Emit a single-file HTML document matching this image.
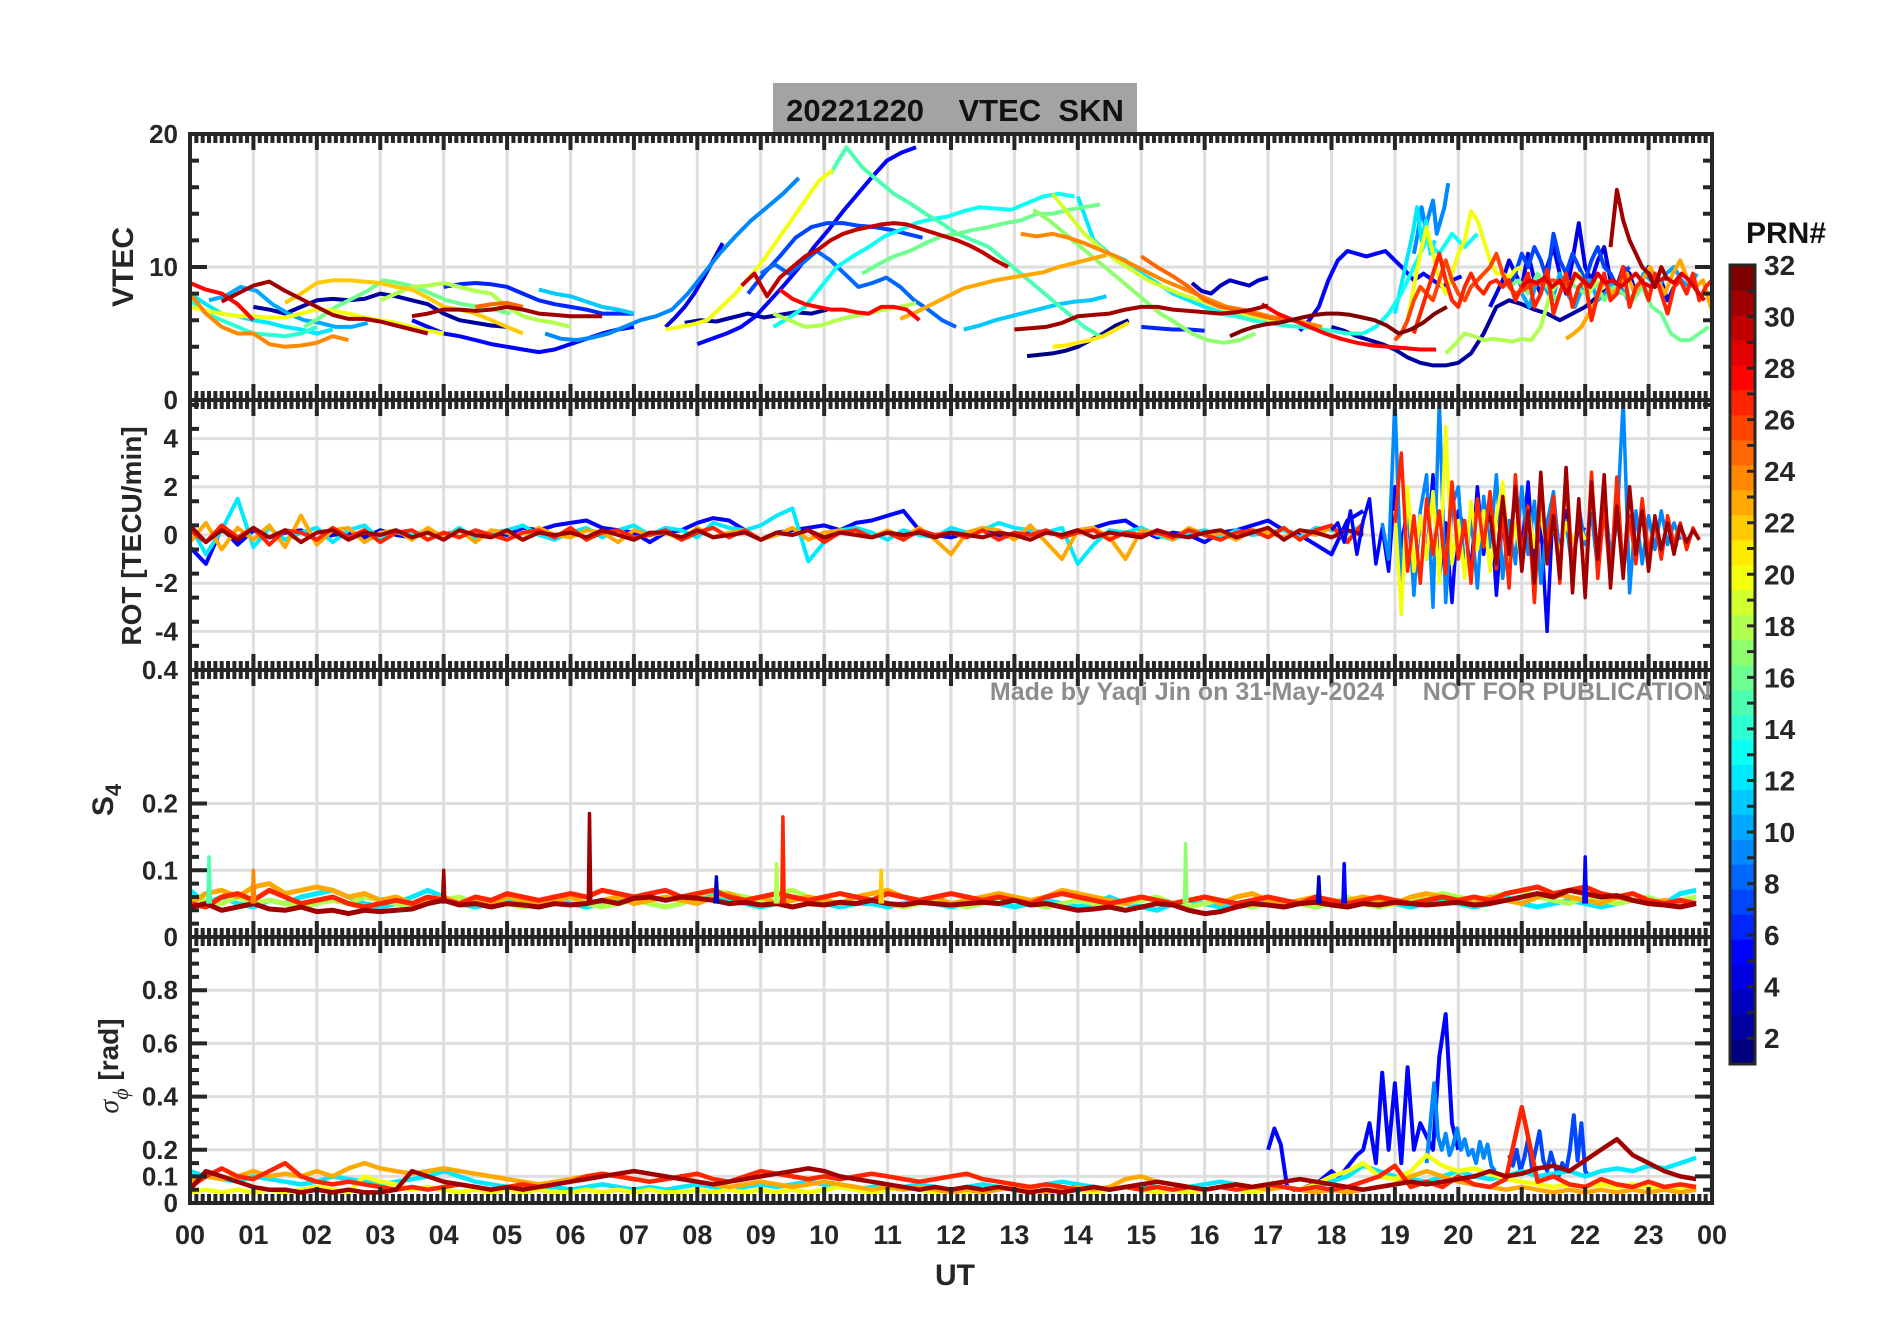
<!DOCTYPE html>
<html><head><meta charset="utf-8"><title>20221220 VTEC SKN</title>
<style>
html,body{margin:0;padding:0;background:#fff;}
body{width:1902px;height:1330px;overflow:hidden;}
svg text{font-family:"Liberation Sans",Arial,sans-serif;font-weight:bold;fill:#262626;}
</style></head>
<body>
<svg id="chart" width="1902" height="1330" viewBox="0 0 1902 1330" xmlns="http://www.w3.org/2000/svg">
<defs>
<clipPath id="c1"><rect x="190" y="134" width="1522" height="266"/></clipPath>
<clipPath id="c2"><rect x="190" y="400" width="1522" height="270"/></clipPath>
<clipPath id="c3"><rect x="190" y="670" width="1522" height="267"/></clipPath>
<clipPath id="c4"><rect x="190" y="937" width="1522" height="266"/></clipPath>
</defs>
<rect x="773" y="83" width="364" height="51" fill="#a3a3a3"/>
<text x="955" y="121" text-anchor="middle" font-size="31" style="white-space:pre;fill:#111" xml:space="preserve">20221220    VTEC  SKN</text>
<g id="grids"></g>
<g id="series"></g>
<g id="axes"></g>
<text x="1187" y="700" font-size="25" text-anchor="middle" style="fill:#8c8c8c;font-family:'Liberation Sans Narrow','Liberation Sans',sans-serif">Made by Yaqi Jin on 31-May-2024</text>
<text x="1567" y="700" font-size="25" text-anchor="middle" style="fill:#8c8c8c;font-family:'Liberation Sans Narrow','Liberation Sans',sans-serif">NOT FOR PUBLICATION</text>
<text transform="translate(133,267) rotate(-90)" text-anchor="middle" font-size="30">VTEC</text>
<text transform="translate(141,536) rotate(-90)" text-anchor="middle" font-size="28">ROT [TECU/min]</text>
<text transform="translate(113,800) rotate(-90)" text-anchor="middle" font-size="30">S<tspan font-size="22" dy="8">4</tspan></text>
<text transform="translate(118,1066) rotate(-90)" text-anchor="middle" font-size="28"><tspan style="font-family:'Liberation Serif',serif;font-style:italic;font-weight:normal">σ</tspan><tspan dy="10" font-size="22" style="font-family:'Liberation Serif',serif;font-style:italic;font-weight:normal">ϕ</tspan><tspan dy="-10"> [rad]</tspan></text>
<text x="955" y="1285" text-anchor="middle" font-size="30">UT</text>
<text x="1786" y="243" text-anchor="middle" font-size="30" style="fill:#111">PRN#</text>
<g id="colorbar"></g>
</svg>
<script>
// ---------- data ----------
const hourLabels = ["00","01","02","03","04","05","06","07","08","09","10","11","12","13","14","15","16","17","18","19","20","21","22","23","00"];
const vtecTicks = [0,10,20];
const rotTicks = [-4,-2,0,2,4];
const s4Ticks = [0,0.1,0.2,0.4];
const sigTicks = [0,0.1,0.2,0.4,0.6,0.8];
const prnTicks = [2,4,6,8,10,12,14,16,18,20,22,24,26,28,30,32];

// VTEC tracks: prn, start hour, step (h), values
const vtecPrn   = [28,31,24,22,20,16,18,14,12,10,2,5,6,11,9,25,31,4,20,5,7,15,8,13,16,30,28,18,2,23,24,11,21,1,19,17,12,25,31,6,3,32,28,5,2,14,26,20,9,12,27,4,7,31,16,18,23,10,29,13];
const vtecStart = [0,0.5,0,1.5,0,1.8,3,0,0,0.3,1,3.5,4,5.5,5.6,4.5,3.5,7.5,7.5,8,8.8,10.1,9,9.2,10.6,8.7,9.3,9.2,7.8,11.2,13.1,12.2,13.6,13.2,13.6,13.3,14,15,13,15,15.8,16.4,16.9,17.5,18,16,19,19.2,19.3,19,19.3,20.5,20.8,22.4,20.8,19.8,21.7,21,21,18.5];
const vtecStep  = [0.25,0.25,0.25,0.25,0.25,0.25,0.25,0.25,0.25,0.25,0.25,0.25,0.25,0.25,0.25,0.25,0.25,0.15,0.22,0.23,0.25,0.25,0.22,0.25,0.25,0.2,0.2,0.25,0.25,0.25,0.25,0.25,0.2,0.2,0.25,0.25,0.25,0.25,0.25,0.25,0.15,0.19,0.25,0.15,0.2,0.25,0.1,0.1,0.06,0.07,0.1,0.1,0.1,0.1,0.15,0.15,0.12,0.12,0.12,0.2];
const vtecValues = [
[8.8,8.3,8.0,7.2,6.0],
[7.4,8.0,8.6,8.9,8.2,7.6,7.0,6.4,6.1,6.1,5.9,5.6,5.3,5.0],
[8.0,6.5,5.5,5.0,5.0,4.2,4.0,4.1,4.3,4.8,4.5],
[7.3,8.0,8.8,9.0,9.0,8.9,8.8,8.5,8.3,7.7,7.0,6.8,6.5,6.0,5.5,5.0],
[7.0,6.7,6.5,6.3,6.3,6.2,6.2,6.5,6.8,6.7,6.5,6.2,6.0,5.8,5.5,5.2,5.0],
[5.5,6.2,7.0,7.6,8.2,9.0,8.8,8.5,8.0,7.5,7.2,7.0,6.8,6.5],
[7.5,8.0,8.5,8.6,8.8,8.5,8.2,8.0,7.0,6.3,6.0,5.8,5.5],
[7.5,6.5,6.0,5.5,5.0,4.9,4.8,5.0,5.5],
[8.0,7.2,6.5,6.3,6.0,5.8,5.5,5.3,5.0,5.3],
[7.5,7.8,8.5,8.2,7.2,6.5,6.0,5.8,5.5,5.5,5.8],
[7.0,6.8,6.5,7.0,7.5,7.6,7.5,7.6,8.0,7.8,7.5,7.2,6.5,6.0,5.8,5.6,5.5],
[6.0,5.5,5.0,4.8,4.5,4.2,4.0,3.8,3.6,3.8,4.2,4.6,5.0,5.3,5.5],
[8.5,8.7,8.8,8.7,8.5,8.0,7.5,7.2,7.0,6.8,6.5,6.5,6.5],
[8.3,8.0,7.8,7.4,7.0,6.8,6.5],
[5.0,4.6,4.5,4.7,5.0,5.5,6.0,6.3,6.8,8.0,9.5,11.0,12.3,13.5,14.5,15.5,16.7],
[7.0,7.2,7.3,7.0],
[6.3,6.5,6.8,6.8,6.7,6.8,7.0,6.8,6.5,6.4,6.3,6.3,6.3],
[5.5,6.2,7.0,8.0,9.2,10.5,11.8],
[5.3,5.5,5.7,6.0,7.0,8.0,9.2,10.5,12.0,13.5,15.0,16.5,17.3],
[4.2,4.6,5.0,5.5,6.3,7.5,8.7,10.0,11.5,12.8,14.2,15.5,16.8,18.0,18.6,19.0],
[8.0,9.5,10.8,12.2,13.0,13.3,13.3,13.1,13.0,12.8,12.5,12.2],
[17.0,19.0,17.5,16.5,15.5,14.8,14.0,13.3,12.5,12.0,11.5,10.5,9.5,8.5,7.5,6.5,5.5,4.8],
[9.5,10.2,9.5,10.3,11.2,10.5,9.5,8.5,8.8,9.2,8.5,7.5,6.8,6.0,5.5],
[5.5,6.2,7.0,8.5,10.0,10.8,11.5,12.3,12.8,13.3,13.6,13.8,14.2,14.5,14.4,14.3,14.8,15.3,15.5,15.3],
[9.5,10.2,10.8,11.2,11.8,12.3,12.5,12.8,13.0,13.3,13.5,14.0,14.0,14.3,14.5,14.7],
[8.6,9.5,7.8,9.2,10.0,10.8,11.3,12.0,12.5,12.8,13.0,13.2,13.3,13.2,12.9,12.6,12.3,12.0,11.6,11.1,10.5,10.0],
[8.3,7.6,7.2,7.0,6.8,6.8,6.6,6.5,7.0,7.0,6.8,6.0],
[6.5,6.0,5.5,5.6,6.0,6.3,6.5,6.8,7.0,7.3],
[5.8,6.0,5.9,6.2,6.5,6.2,6.4,6.6,6.5,6.8],
[6.1,6.6,7.2,7.8,8.4,8.7,9.0,9.2,9.4,9.6,10.0,10.3,10.6,10.9],
[12.5,12.3,12.5,12.2,11.8,11.3,10.8,10.2,9.6,9.0,8.5,8.0,7.5,7.0,6.8,6.5,6.2,6.0,5.8,5.5],
[5.3,5.6,6.0,6.3,6.6,6.9,7.2,7.4,7.5,7.8],
[4.0,4.1,4.3,4.5,4.8,5.3,5.8],
[3.3,3.4,3.5,3.7,4.0,4.5,5.0,5.6,6.0],
[15.5,14.0,12.5,11.5,10.5,9.8,9.0,8.5,8.0,7.6,7.2,6.8,6.5,6.2,6.0],
[14.3,13.5,12.5,11.5,10.5,9.5,8.5,7.5,6.5,5.8,5.0,4.5,4.3,4.5,5.0],
[15.3,12.0,11.0,10.5,9.5,8.8,8.0,7.5,7.0,6.6,6.3,6.0,5.8],
[10.8,10.0,9.3,8.5,7.5,7.0,6.8,6.5,6.2,6.0],
[5.3,5.4,5.5,5.8,6.3,6.4,6.5,6.8,7.0,7.0,6.8,6.7,6.6,6.5,6.6,6.8,7.1],
[5.5,5.4,5.3,5.3,5.2],
[8.8,8.2,8.0,8.6,9.0,8.8,8.6,9.0,9.2],
[4.8,5.2,5.5,5.7,5.8,6.0,6.2,6.4,6.5,6.5,6.4,6.2,6.0,5.6,5.0,5.3,5.8,6.5,7.0],
[7.2,6.5,6.0,5.5,5.0,4.6,4.3,4.1,4.0,3.9,3.8,3.8],
[5.2,6.0,7.0,9.0,10.5,11.2,11.0,10.8,11.0,11.2,10.5,9.8,9.0,9.5,9.0,8.5,9.0,9.3],
[5.5,5.2,4.8,4.5,4.2,3.8,3.2,2.8,2.6,2.6,2.8,3.5,5.0,7.0,7.5,7.2,6.8,6.5,6.0,6.5,7.0,7.8,8.5,8.0],
[6.8,6.5,6.3,6.0,5.8,5.6,5.5,5.4,5.2,5.0,5.0],
[4.5,5.0,6.0,7.5,8.5,8.0,7.5,9.0,10.5,9.0,8.0,7.5,8.5,9.0,9.5,10.0,11.0,9.5,8.5,8.0,8.2,8.5,8.7,8.8,8.9,9.0,8.8,8.6],
[6.0,8.5,11.0,13.0,11.0,9.0,8.0,9.5,11.0,12.0,14.2,13.5,12.0,10.5,9.5,9.5,9.2,9.8,10.0],
[11.0,12.5,14.5,13.0,14.0,15.0,12.5,13.5,14.5,16.3],
[6.5,8.0,9.5,11.0,12.5,14.5,12.0,13.5,11.0,12.0],
[5.0,6.5,8.0,9.5,11.0,9.0,7.5,7.0,8.5,9.5,8.5,8.0,8.8,9.0,8.5,9.0,7.5,8.5,9.5,7.0,8.0,9.8,6.5,8.0,9.5,7.0,8.5,9.0,6.0,8.0,9.5,7.5,8.0,10.0,7.0,8.5,9.0,7.5,9.5,8.0,6.5,8.5,9.0,8.0,9.5,7.5,8.5,9.0,8.0],
[7.0,8.0,9.0,10.5,9.5,8.5,11.0,9.0,8.0,10.0,11.5,9.5,8.0,10.5,13.3,10.0,9.0,10.5,11.5,9.0,8.5,10.0,9.5,8.0,9.0,10.0,8.5,9.0,7.5,8.5],
[8.5,9.5,11.0,10.0,11.5,10.5,9.0,12.5,10.5,9.5,11.0,10.0,9.0,10.5,11.5,10.0,9.5,8.5,9.5,10.0],
[11.5,15.8,13.5,12.0,11.0,10.0,9.5,8.5,10.0,9.0],
[8.5,9.0,8.0,9.5,8.5,7.5,9.0,8.5,8.0,9.0,7.5,8.5,8.0,7.5,8.5,7.0,6.5,5.0,4.5,4.5,5.0,5.5],
[3.5,4.2,5.0,4.8,4.5,4.6,4.5,4.4,4.6,4.5,5.5,8.0,9.0,8.5,9.5,8.0,9.0],
[4.6,5.0,5.5,6.5,7.5,9.0,8.0,8.5,9.5,8.0,9.0,10.0,9.0,8.0,9.5,10.5,9.0,8.5,9.0,7.0,6.0,5.2],
[8.0,7.0,9.0,8.5,7.5,9.5,8.0,7.0,8.5,9.0,7.5,8.0,9.0,8.5,7.5,8.0,9.5,9.0,8.5,9.5,10.0,9.0,8.5,9.5],
[8.5,9.0,8.8,9.2,8.5,9.0,8.0,9.5,9.0,8.5,9.5,8.8,9.0,8.5,9.0,9.5,8.8,8.5,9.0,9.2,8.8,9.5,9.0,8.2,7.5],
[5.0,5.5,6.5,8.0,10.0,12.0,11.0,12.5,11.5,12.5]
];

// ROT quiet-band series (0 - 18.5 h, 0.25 h step)
const rotQuietPrn = [5,12,23,27,31];
const rotQuietValues = [
[-0.5,-1.2,0.3,-0.4,0.2,-0.1,0.1,0.2,-0.2,0.0,0.1,-0.1,0.2,0.0,-0.1,0.1,0.0,0.2,-0.1,0.1,0.0,0.3,0.2,0.4,0.5,0.6,0.3,0.2,0.1,-0.3,0.1,0.2,0.5,0.7,0.6,0.2,-0.2,0.1,0.2,0.3,0.4,0.2,0.5,0.6,0.8,1.0,0.2,0.0,-0.1,0.1,0.2,0.0,-0.1,0.2,0.1,0.0,0.2,0.3,0.5,0.6,0.2,-0.1,0.1,0.0,-0.3,0.1,0.2,0.4,0.6,0.2,0.0,-0.4,-0.8,0.6,1.0],
[0.4,-0.8,0.2,1.5,-0.5,0.3,-0.2,0.1,0.3,-0.3,0.2,0.4,-0.2,0.1,0.0,0.2,-0.1,0.3,-0.2,0.1,0.2,0.4,0.0,-0.2,0.1,0.3,-0.1,0.2,0.4,0.0,0.3,0.2,-0.1,0.5,0.3,0.2,0.4,0.8,1.1,-1.1,-0.3,0.2,0.3,0.1,-0.2,0.2,0.0,-0.1,0.3,0.1,0.2,0.5,0.3,0.2,0.1,0.3,-1.2,-0.4,0.2,0.1,0.3,0.0,-0.2,0.1,0.2,-0.1,0.2,0.0,0.1,0.2,-0.1,0.3,0.2,0.1,0.4],
[-0.3,0.5,-0.6,0.3,-0.2,0.4,-0.5,0.8,-0.4,0.2,0.3,-0.3,0.1,0.2,-0.2,0.3,-0.1,0.2,-0.3,0.2,0.1,-0.2,0.3,0.0,-0.1,0.2,0.1,-0.3,0.2,0.0,0.1,-0.2,0.3,-0.1,0.1,0.2,-0.2,0.0,0.3,-0.2,0.1,0.2,0.0,-0.1,0.2,-0.1,0.3,-0.2,-0.8,0.1,0.3,0.2,-0.2,0.4,-0.3,-1.0,0.2,0.3,-0.1,-1.0,0.2,0.1,-0.2,0.3,0.0,0.1,-0.2,0.2,0.1,-0.1,0.2,0.0,0.3,-0.2,0.2],
[0.2,-0.3,0.4,-0.1,0.3,-0.4,0.2,0.1,-0.2,0.3,-0.1,0.2,-0.3,0.1,0.2,-0.2,0.1,-0.1,0.2,0.0,-0.2,0.1,0.2,-0.1,0.3,-0.2,0.1,0.2,-0.1,0.0,0.2,-0.2,0.1,0.3,-0.1,0.2,-0.2,0.1,0.0,0.2,-0.3,0.1,0.2,-0.1,0.1,-0.2,0.2,0.0,0.1,-0.1,0.2,-0.2,0.1,0.0,0.2,-0.1,0.1,0.2,-0.2,0.1,0.0,0.1,-0.1,0.2,0.0,-0.2,0.1,0.2,-0.1,0.3,-0.2,0.2,0.4,-0.3,0.5],
[0.4,-0.3,0.2,-0.2,0.3,-0.1,0.2,-0.3,0.1,0.2,-0.2,0.1,0.0,0.2,-0.1,0.1,-0.2,0.2,0.0,-0.1,0.2,-0.2,0.1,0.0,0.1,-0.1,0.2,0.0,-0.2,0.1,0.1,-0.1,0.2,-0.1,0.0,0.1,-0.2,0.1,0.0,0.2,-0.1,0.1,0.0,-0.1,0.1,0.0,0.1,-0.1,0.1,0.0,-0.1,0.1,0.0,-0.2,0.1,0.0,0.2,-0.1,0.1,0.0,-0.1,0.2,0.0,-0.1,0.1,0.2,-0.1,0.1,0.3,-0.2,0.2,0.1,-0.1,0.2,0.0]
];
// ROT bursts (evening)
const rotBurstPrn = [5,9,20,27,31];
const rotBurstStart = [18.0,18.8,19.0,19.0,20.5];
const rotBurstValues = [
[0.2,0.5,-0.3,1.0,-0.8,0.6,1.5,-1.2,0.3,-1.5,2.0,-0.5,1.2,-2.2,0.8,-1.0,2.5,-1.8,0.5,-2.8,1.0,0.3,-1.5,2.0,-0.8,1.6,-2.5,0.8,-1.0,1.8,-0.6,2.2,-1.4,0.5,-4.0,1.5,-0.8,1.0,-1.2,0.4,0.2],
[0.5,-1.0,5.6,-2.0,1.5,-2.5,1.0,2.5,-3.0,5.6,-2.8,1.2,2.0,-1.5,0.8,-2.2,1.6,-0.5,2.5,-1.8,0.6,-1.2,2.0,-0.8,1.4,-2.0,0.5,1.8,-1.0,0.6,-1.6,1.2,-0.4,0.9,-1.5,1.6,-0.8,0.4,5.6,-2.4,1.0,-1.2,0.8,-0.6,1.0,-0.4,0.5,-0.2],
[1.0,-3.3,2.0,-1.5,0.8,-1.0,1.8,-2.0,4.5,-1.2,0.6,-1.8,1.4,-0.6,1.0,-1.5,0.8,2.2,-1.0,0.5,-1.2,1.0,-0.5,0.8,-0.6,0.4,-0.8,0.5,-0.3,0.4,-0.2],
[0.5,3.4,-1.5,0.8,-2.0,1.5,-0.8,1.0,-1.6,2.2,-1.0,0.6,-2.0,1.5,-0.5,1.8,-1.4,0.8,-2.2,2.5,-1.0,1.2,-2.8,2.0,-0.6,1.6,-2.0,2.8,-1.5,1.0,-2.2,2.6,-1.8,1.2,-2.0,2.4,-1.6,0.8,-1.2,1.5,-0.8,0.6,-1.0,0.8,-0.4,0.5,-0.6,0.3,-0.2],
[0.8,-1.2,1.6,-0.8,2.0,-1.5,1.0,-2.0,2.6,-1.2,0.8,-1.8,2.8,-2.4,1.5,-2.6,2.2,-1.0,2.5,-2.2,1.2,-1.8,2.0,-0.8,1.0,-1.5,0.8,-0.6,0.5,-0.8,0.4,-0.3,0.2,-0.2]
];

// S4 series (0 - 24 h, 0.25 h step)
const s4Prn = [12,18,23,27,31];
const s4Values = [
[0.07,0.05,0.06,0.05,0.045,0.055,0.05,0.06,0.065,0.07,0.06,0.05,0.045,0.05,0.06,0.07,0.06,0.05,0.045,0.05,0.055,0.05,0.045,0.06,0.05,0.045,0.05,0.055,0.06,0.05,0.045,0.05,0.06,0.065,0.055,0.05,0.045,0.05,0.06,0.055,0.05,0.045,0.05,0.05,0.045,0.05,0.055,0.05,0.045,0.05,0.06,0.05,0.045,0.05,0.055,0.05,0.045,0.05,0.06,0.05,0.045,0.04,0.05,0.055,0.05,0.045,0.05,0.055,0.05,0.045,0.05,0.055,0.05,0.045,0.05,0.06,0.05,0.045,0.05,0.055,0.05,0.045,0.05,0.06,0.05,0.045,0.05,0.055,0.05,0.045,0.05,0.055,0.06,0.05,0.065,0.07],
[0.06,0.055,0.05,0.06,0.05,0.055,0.05,0.045,0.05,0.055,0.05,0.06,0.055,0.05,0.045,0.05,0.055,0.06,0.05,0.055,0.05,0.045,0.05,0.055,0.06,0.05,0.045,0.05,0.055,0.05,0.045,0.05,0.06,0.07,0.065,0.06,0.055,0.065,0.07,0.06,0.055,0.05,0.06,0.055,0.05,0.045,0.05,0.055,0.05,0.045,0.05,0.06,0.055,0.05,0.045,0.05,0.055,0.05,0.045,0.05,0.055,0.06,0.05,0.045,0.05,0.055,0.05,0.045,0.05,0.055,0.05,0.045,0.05,0.06,0.05,0.045,0.05,0.055,0.06,0.065,0.06,0.055,0.06,0.065,0.07,0.06,0.055,0.05,0.06,0.055,0.05,0.055,0.06,0.05,0.055,0.06],
[0.05,0.065,0.07,0.06,0.075,0.08,0.065,0.07,0.075,0.07,0.06,0.065,0.055,0.06,0.05,0.055,0.06,0.05,0.055,0.05,0.06,0.055,0.05,0.055,0.06,0.05,0.055,0.06,0.05,0.055,0.06,0.055,0.05,0.06,0.065,0.055,0.06,0.05,0.055,0.06,0.055,0.05,0.06,0.065,0.07,0.06,0.055,0.06,0.05,0.055,0.06,0.065,0.06,0.055,0.06,0.07,0.065,0.06,0.055,0.05,0.06,0.055,0.05,0.055,0.06,0.05,0.06,0.065,0.055,0.05,0.055,0.06,0.05,0.055,0.06,0.055,0.05,0.06,0.065,0.06,0.055,0.05,0.06,0.055,0.05,0.06,0.065,0.06,0.055,0.05,0.06,0.055,0.05,0.055,0.05,0.05],
[0.05,0.045,0.06,0.065,0.055,0.07,0.06,0.05,0.055,0.06,0.05,0.045,0.05,0.055,0.05,0.06,0.055,0.05,0.06,0.055,0.065,0.06,0.055,0.06,0.065,0.06,0.07,0.065,0.06,0.065,0.07,0.06,0.065,0.07,0.06,0.055,0.06,0.065,0.06,0.055,0.06,0.065,0.06,0.055,0.065,0.06,0.055,0.06,0.065,0.06,0.055,0.06,0.055,0.05,0.06,0.065,0.06,0.055,0.05,0.055,0.06,0.055,0.05,0.055,0.06,0.055,0.05,0.055,0.06,0.055,0.05,0.06,0.055,0.05,0.055,0.06,0.055,0.05,0.055,0.06,0.055,0.06,0.055,0.065,0.07,0.075,0.065,0.07,0.075,0.065,0.06,0.065,0.055,0.05,0.055,0.05],
[0.045,0.05,0.04,0.045,0.05,0.042,0.04,0.045,0.038,0.04,0.035,0.04,0.038,0.04,0.042,0.05,0.055,0.048,0.05,0.045,0.05,0.048,0.045,0.05,0.048,0.05,0.055,0.05,0.058,0.06,0.055,0.06,0.058,0.055,0.05,0.052,0.048,0.05,0.045,0.05,0.048,0.052,0.05,0.055,0.05,0.048,0.052,0.05,0.048,0.05,0.052,0.05,0.055,0.048,0.05,0.045,0.04,0.042,0.045,0.04,0.045,0.05,0.048,0.04,0.035,0.038,0.045,0.05,0.048,0.045,0.05,0.052,0.048,0.045,0.05,0.048,0.052,0.05,0.048,0.05,0.052,0.048,0.05,0.055,0.06,0.065,0.06,0.07,0.065,0.06,0.062,0.055,0.05,0.048,0.045,0.05]
];
const s4SpikeHour = [0.3,6.3,9.35,9.25,4.0,15.7,18.2,22.0,1.0,10.9,8.3,17.8];
const s4SpikeValue = [0.12,0.185,0.18,0.11,0.10,0.14,0.11,0.12,0.10,0.10,0.09,0.09];
const s4SpikePrn = [15,31,27,18,31,17,5,5,24,22,3,3];

// sigma-phi series (0 - 24 h, 0.25 h step)
const sigPrn = [12,20,23,27,31];
const sigValues = [
[0.12,0.1,0.09,0.08,0.1,0.09,0.08,0.07,0.08,0.1,0.09,0.08,0.07,0.08,0.09,0.1,0.12,0.1,0.08,0.07,0.06,0.06,0.05,0.06,0.05,0.06,0.07,0.06,0.05,0.06,0.05,0.06,0.07,0.06,0.05,0.06,0.07,0.06,0.07,0.08,0.07,0.06,0.05,0.06,0.07,0.06,0.07,0.06,0.05,0.06,0.07,0.06,0.05,0.06,0.07,0.08,0.07,0.06,0.05,0.06,0.07,0.06,0.05,0.06,0.07,0.08,0.07,0.06,0.07,0.06,0.05,0.06,0.08,0.1,0.14,0.12,0.1,0.09,0.08,0.1,0.12,0.1,0.09,0.1,0.12,0.1,0.11,0.12,0.1,0.12,0.13,0.12,0.14,0.13,0.15,0.17],
[0.04,0.05,0.04,0.05,0.04,0.05,0.04,0.05,0.06,0.05,0.04,0.1,0.08,0.07,0.05,0.06,0.05,0.04,0.05,0.04,0.05,0.04,0.05,0.04,0.04,0.05,0.04,0.05,0.04,0.05,0.04,0.04,0.05,0.04,0.05,0.04,0.05,0.04,0.05,0.04,0.05,0.06,0.05,0.04,0.05,0.06,0.05,0.04,0.05,0.04,0.05,0.06,0.05,0.04,0.05,0.04,0.05,0.04,0.05,0.06,0.05,0.04,0.05,0.04,0.05,0.06,0.05,0.04,0.05,0.06,0.05,0.07,0.1,0.12,0.15,0.1,0.09,0.12,0.18,0.14,0.12,0.13,0.11,0.09,0.08,0.07,0.06,0.07,0.06,0.07,0.06,0.07,0.06,0.05,0.06,0.05],
[0.08,0.1,0.09,0.1,0.12,0.1,0.11,0.1,0.12,0.1,0.13,0.15,0.13,0.12,0.11,0.12,0.13,0.12,0.11,0.1,0.09,0.08,0.07,0.08,0.09,0.1,0.11,0.1,0.09,0.08,0.09,0.1,0.08,0.07,0.06,0.07,0.08,0.07,0.06,0.07,0.08,0.07,0.06,0.05,0.06,0.05,0.06,0.05,0.04,0.05,0.04,0.05,0.06,0.05,0.04,0.05,0.06,0.05,0.06,0.09,0.1,0.08,0.07,0.06,0.05,0.06,0.07,0.06,0.05,0.06,0.05,0.04,0.05,0.04,0.05,0.06,0.07,0.1,0.12,0.1,0.08,0.07,0.06,0.05,0.06,0.05,0.04,0.05,0.04,0.05,0.04,0.05,0.04,0.05,0.04,0.05],
[0.06,0.1,0.13,0.1,0.09,0.12,0.15,0.1,0.08,0.07,0.08,0.07,0.06,0.05,0.06,0.05,0.06,0.07,0.06,0.05,0.06,0.07,0.06,0.07,0.08,0.1,0.11,0.1,0.09,0.08,0.09,0.1,0.11,0.09,0.08,0.1,0.12,0.11,0.1,0.09,0.1,0.09,0.1,0.11,0.1,0.09,0.08,0.09,0.1,0.11,0.09,0.08,0.07,0.06,0.07,0.06,0.05,0.06,0.05,0.06,0.05,0.06,0.05,0.06,0.05,0.06,0.05,0.06,0.07,0.06,0.05,0.06,0.05,0.06,0.08,0.1,0.14,0.06,0.08,0.06,0.1,0.07,0.06,0.09,0.36,0.08,0.1,0.07,0.06,0.09,0.07,0.06,0.08,0.06,0.07,0.06],
[0.05,0.12,0.1,0.08,0.06,0.05,0.05,0.04,0.05,0.04,0.05,0.04,0.04,0.05,0.12,0.1,0.08,0.07,0.06,0.05,0.06,0.05,0.06,0.07,0.08,0.09,0.1,0.11,0.12,0.11,0.1,0.09,0.08,0.07,0.08,0.09,0.1,0.11,0.12,0.13,0.12,0.1,0.09,0.08,0.07,0.06,0.05,0.06,0.05,0.06,0.05,0.06,0.05,0.04,0.05,0.04,0.05,0.06,0.05,0.06,0.07,0.08,0.07,0.06,0.05,0.06,0.07,0.06,0.07,0.08,0.09,0.08,0.07,0.06,0.05,0.06,0.07,0.08,0.07,0.08,0.09,0.1,0.12,0.1,0.11,0.13,0.14,0.12,0.16,0.2,0.24,0.18,0.15,0.12,0.1,0.09]
];
const sigBurstPrn = [5,9,7];
const sigBurstStart = [17.0,19.5,20.8];
const sigBurstStep = [0.1,0.06,0.06];
const sigBurstValues = [
[0.2,0.28,0.22,0.06,0.05,0.05,0.06,0.07,0.08,0.1,0.12,0.1,0.12,0.15,0.18,0.2,0.3,0.15,0.49,0.2,0.45,0.15,0.51,0.2,0.3,0.25,0.2,0.55,0.71,0.3,0.2],
[0.15,0.3,0.45,0.25,0.2,0.26,0.18,0.22,0.28,0.2,0.24,0.18,0.2,0.15,0.23,0.17,0.22,0.14,0.12],
[0.18,0.14,0.2,0.12,0.17,0.24,0.13,0.2,0.27,0.16,0.12,0.19,0.14,0.1,0.15,0.12,0.2,0.33,0.16,0.3,0.12,0.1]
];

// ---------- geometry ----------
const NS = "http://www.w3.org/2000/svg";
const X0 = 190, X1 = 1712;
const panels = [
 {top:134,bot:400,min:0,max:20,ticks:vtecTicks,minor:2,fmt:v=>String(v),clip:"c1",name:"vtec"},
 {top:400,bot:670,min:-5.6,max:5.6,ticks:rotTicks,minor:1,fmt:v=>String(v),clip:"c2",name:"rot"},
 {top:670,bot:937,min:0,max:0.4,ticks:s4Ticks,minor:0.02,fmt:v=>String(v),clip:"c3",name:"s4"},
 {top:937,bot:1203,min:0,max:1.0,ticks:sigTicks,minor:0.05,fmt:v=>String(v),clip:"c4",name:"sigma-phi"}
];
function xs(h){return X0 + h/24*(X1-X0);}
function ys(p,v){return p.bot - (v-p.min)/(p.max-p.min)*(p.bot-p.top);}
function jet(prn){
  const t=(prn-1)/31;
  const c=x=>Math.round(255*Math.max(0,Math.min(1,x)));
  return `rgb(${c(1.5-Math.abs(4*t-3))},${c(1.5-Math.abs(4*t-2))},${c(1.5-Math.abs(4*t-1))})`;
}
function el(tag,attrs,parent){const e=document.createElementNS(NS,tag);for(const k in attrs)e.setAttribute(k,attrs[k]);parent.appendChild(e);return e;}

const grids=document.getElementById('grids');
const axes=document.getElementById('axes');
const series=document.getElementById('series');

panels.forEach((p,pi)=>{
  for(let h=1;h<24;h++){
    const g=el('line',{x1:xs(h),x2:xs(h),y1:p.top,y2:p.bot,stroke:'#dedede','stroke-width':3},grids);
    
    
  }
  p.ticks.forEach(v=>{
    if(v===p.min||v===p.max) return;
    const g=el('line',{x1:X0,x2:X1,y1:ys(p,v),y2:ys(p,v),stroke:'#dedede','stroke-width':3},grids);
    
    
  });
  const box=el('rect',{x:X0,y:p.top,width:X1-X0,height:p.bot-p.top,fill:'none',stroke:'#262626','stroke-width':4},axes);
  
  
  let d='';
  for(let k=0;k<=240;k++){
    const x=xs(k/10);
    const L=(k%10===0)?16:9;
    d+=`M${x},${p.top}v${L}M${x},${p.bot}v${-L}`;
  }
  const nMin=Math.round((p.max-p.min)/p.minor);
  for(let k=0;k<=nMin;k++){
    const v=p.min+k*p.minor;
    const major=p.ticks.some(t=>Math.abs(t-v)<1e-6);
    const L=major?17:9;
    const y=ys(p,v);
    d+=`M${X0},${y}h${L}M${X1},${y}h${-L}`;
  }
  const tk=el('path',{d:d,stroke:'#262626','stroke-width':4,fill:'none'},axes);
  
  
  p.ticks.forEach(v=>{
    const t=el('text',{x:178,y:ys(p,v)+9,'text-anchor':'end','font-size':26},axes);
    t.textContent=p.fmt(v);
    
    
  });
});
hourLabels.forEach((lab,i)=>{
  const t=el('text',{x:xs(i),y:1244,'text-anchor':'middle','font-size':27},axes);
  t.textContent=lab;
  
  
});

function drawLine(p,prn,t0,dt,vals,w,name){
  let d='';
  vals.forEach((v,i)=>{d+=(i?'L':'M')+xs(t0+i*dt).toFixed(1)+','+ys(p,v).toFixed(1);});
  const e=el('path',{d:d,fill:'none',stroke:jet(prn),'stroke-width':w,'stroke-linejoin':'round','clip-path':`url(#${p.clip})`},series);
  
  
}

vtecPrn.map((prn,i)=>i).sort((a,b)=>vtecPrn[a]-vtecPrn[b]).forEach(i=>{
  drawLine(panels[0],vtecPrn[i],vtecStart[i],vtecStep[i],vtecValues[i],4,'vtec-track-prn'+vtecPrn[i]);
});
rotQuietPrn.forEach((prn,i)=>drawLine(panels[1],prn,0,0.25,rotQuietValues[i],4,'rot-series-prn'+prn));
rotBurstPrn.forEach((prn,i)=>drawLine(panels[1],prn,rotBurstStart[i],0.1,rotBurstValues[i],3.5,'rot-burst-prn'+prn));
s4Prn.forEach((prn,i)=>drawLine(panels[2],prn,0,0.25,s4Values[i],5,'s4-series-prn'+prn));
s4SpikeHour.forEach((h,i)=>drawLine(panels[2],s4SpikePrn[i],h-0.02,0.02,[0.05,s4SpikeValue[i],0.05],3.5,'s4-spike-prn'+s4SpikePrn[i]));
sigBurstPrn.forEach((prn,i)=>drawLine(panels[3],prn,sigBurstStart[i],sigBurstStep[i],sigBurstValues[i],4,'sigma-burst-prn'+prn));
sigPrn.forEach((prn,i)=>drawLine(panels[3],prn,0,0.25,sigValues[i],4.5,'sigma-series-prn'+prn));

const cb=document.getElementById('colorbar');
const CB_X=1730, CB_W=25, CB_TOP=265, CB_BOT=1064;
for(let k=1;k<=32;k++){
  const yT=CB_TOP+(32-k)*(CB_BOT-CB_TOP)/32;
  const r=el('rect',{x:CB_X,y:yT,width:CB_W,height:(CB_BOT-CB_TOP)/32+0.6,fill:jet(k)},cb);
  
  
}
const cbf=el('rect',{x:CB_X,y:CB_TOP,width:CB_W,height:CB_BOT-CB_TOP,fill:'none',stroke:'#262626','stroke-width':3},cb);


let cd='';
for(let v=1;v<=32;v++){const y=CB_BOT-(v-1)/31*(CB_BOT-CB_TOP);cd+=`M${CB_X+CB_W},${y}h-8`;}
const cbt=el('path',{d:cd,stroke:'#262626','stroke-width':3},cb);


prnTicks.forEach(v=>{
  const y=CB_BOT-(v-1)/31*(CB_BOT-CB_TOP);
  const t=el('text',{x:1764,y:y+10,'font-size':28},cb);
  t.textContent=v;
  
  
});
</script>
</body></html>
